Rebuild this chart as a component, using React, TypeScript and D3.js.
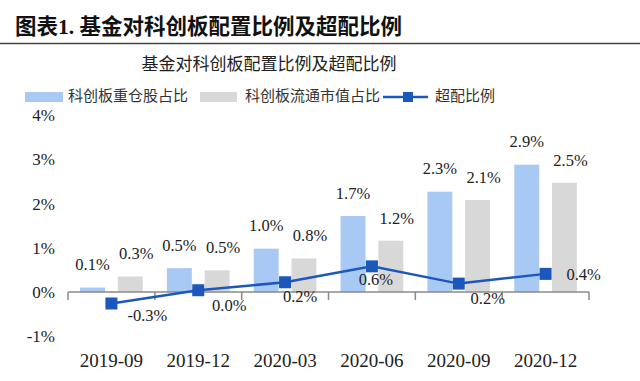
import React from "react";
import * as d3 from "d3";

const categories = ["2019-09", "2019-12", "2020-03", "2020-06", "2020-09", "2020-12"];
const heavyShare = [0.1, 0.54, 0.98, 1.72, 2.27, 2.88];
const floatShare = [0.35, 0.49, 0.76, 1.16, 2.08, 2.47];
const overweight = [-0.26, 0.04, 0.22, 0.58, 0.19, 0.41];
const yTicks = [-1, 0, 1, 2, 3, 4];
const seriesNames = ["科创板重仓股占比", "科创板流通市值占比", "超配比例"];
const chartTitle = "基金对科创板配置比例及超配比例";
const figTitle = "图表1. 基金对科创板配置比例及超配比例";

const BLUE = "#a8c9f4";
const GRAY = "#d8d8d8";
const LINE = "#1c58bb";
const SERIF = "'Liberation Serif', 'Times New Roman', serif";
const CJK = "'Noto Sans CJK SC', sans-serif";

export default function App() {
  const x = d3.scaleBand<string>().domain(categories).range([68, 589]).paddingInner(0).paddingOuter(0);
  const xi = d3.scaleBand<string>().domain(["a", "b"]).range([0, x.bandwidth()]).paddingInner(0.34).paddingOuter(0.32);
  const y = d3.scaleLinear().domain([-1, 4]).range([336.2, 115.2]);
  const fmt = (v: number) => v.toFixed(1) + "%";
  const cx = (c: string) => (x(c) as number) + x.bandwidth() / 2;
  const line = d3.line<number>().x((_, i) => cx(categories[i])).y((d) => y(d));
  // label offsets for the overweight line (manually placed in the original)
  const lineLabelOff = [[36, 14], [31, 17], [15, 16], [4, 15], [29, 17], [38, 2]];
  const boundaries = categories.map((c) => x(c) as number).concat([589]);

  return (
    <svg width={640} height={381} style={{ position: "absolute", left: 0, top: 0, background: "#fff" }}>
      <rect x={0} y={0} width={640} height={381} fill="#fff" />
      <text x={15} y={34} fontFamily={`${SERIF}, ${CJK}`} fontWeight="bold" fontSize={21.5} fill="#111">
        <tspan fontFamily={CJK}>图表</tspan>
        <tspan fontFamily={SERIF}>1. </tspan>
        <tspan fontFamily={CJK}>{figTitle.slice(5)}</tspan>
      </text>
      <line x1={0} x2={640} y1={43.5} y2={43.5} stroke="#444" strokeWidth={1.5} />
      <text x={269} y={65} textAnchor="middle" dominantBaseline="middle" fontFamily={CJK} fontSize={17} fill="#222">
        {chartTitle}
      </text>
      {/* legend */}
      <g fontFamily={CJK} fontSize={15} fill="#333">
        <rect x={25} y={92} width={38} height={10} fill={BLUE} />
        <text x={68} y={97} dominantBaseline="middle">{seriesNames[0]}</text>
        <rect x={200} y={92} width={37} height={10} fill={GRAY} />
        <text x={245} y={97} dominantBaseline="middle">{seriesNames[1]}</text>
        <line x1={383} x2={428} y1={97} y2={97} stroke={LINE} strokeWidth={2.5} />
        <rect x={403} y={92} width={10} height={10} fill={LINE} />
        <text x={435} y={97} dominantBaseline="middle">{seriesNames[2]}</text>
      </g>
      {/* y tick labels */}
      <g fontFamily={SERIF} fontSize={17} fill="#222">
        {yTicks.map((t) => (
          <text key={t} x={55} y={y(t) + 2} textAnchor="end" dominantBaseline="middle">
            {t}%
          </text>
        ))}
      </g>
      {/* bars */}
      {categories.map((c, i) => (
        <g key={c}>
          <rect x={(x(c) as number) + (xi("a") as number)} y={y(heavyShare[i])} width={xi.bandwidth()} height={y(0) - y(heavyShare[i])} fill={BLUE} />
          <rect x={(x(c) as number) + (xi("b") as number)} y={y(floatShare[i])} width={xi.bandwidth()} height={y(0) - y(floatShare[i])} fill={GRAY} />
        </g>
      ))}
      {/* x axis */}
      <line x1={68} x2={589} y1={y(0)} y2={y(0)} stroke="#8a8a8a" strokeWidth={1.5} />
      {boundaries.map((b, i) => (
        <line key={i} x1={b} x2={b} y1={y(0)} y2={y(0) + 8} stroke="#8a8a8a" strokeWidth={1.5} />
      ))}
      <g fontFamily={SERIF} fontSize={19} fill="#222">
        {categories.map((c) => (
          <text key={c} x={cx(c)} y={363} textAnchor="middle" dominantBaseline="middle">
            {c}
          </text>
        ))}
      </g>
      {/* line */}
      <path d={line(overweight) || ""} fill="none" stroke={LINE} strokeWidth={2.5} />
      {overweight.map((v, i) => (
        <rect key={i} x={cx(categories[i]) - 6} y={y(v) - 6} width={12} height={12} fill={LINE} />
      ))}
      {/* labels */}
      <g fontFamily={SERIF} fontSize={16.5} fill="#222">
        {categories.map((c, i) => (
          <g key={c}>
            <text x={(x(c) as number) + (xi("a") as number) + xi.bandwidth() / 2} y={y(heavyShare[i]) - 21} textAnchor="middle" dominantBaseline="middle">
              {fmt(heavyShare[i])}
            </text>
            <text x={(x(c) as number) + (xi("b") as number) + xi.bandwidth() / 2 + 6} y={y(floatShare[i]) - 21} textAnchor="middle" dominantBaseline="middle">
              {fmt(floatShare[i])}
            </text>
            <text x={cx(c) + lineLabelOff[i][0]} y={y(overweight[i]) + lineLabelOff[i][1]} textAnchor="middle" dominantBaseline="middle">
              {fmt(overweight[i])}
            </text>
          </g>
        ))}
      </g>
    </svg>
  );
}
